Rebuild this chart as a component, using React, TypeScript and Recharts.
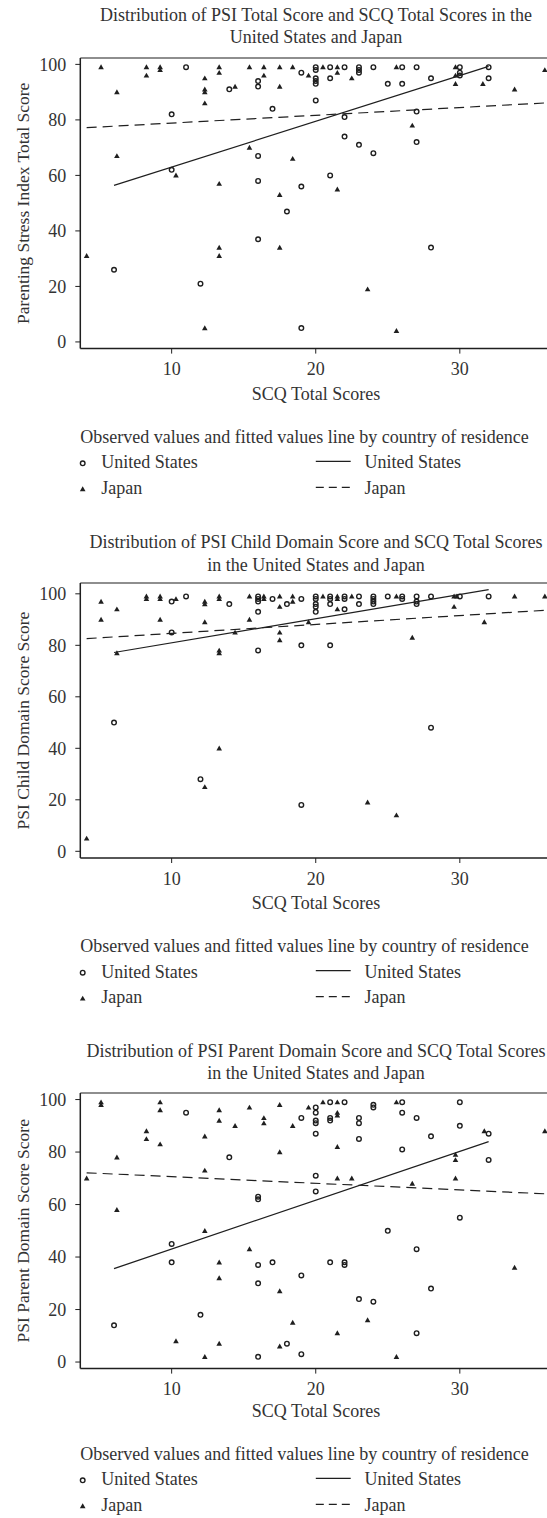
import React from 'react';
import { ComposedChart, Scatter, Line, XAxis, YAxis, ReferenceLine } from 'recharts';

const FONT = '"Liberation Serif", "Times New Roman", serif';
const INK = '#1f1f1f';
const TEXT = '#333';
const W = 547;

const scqTicks = [10, 20, 30];
const psiTicks = [0, 20, 40, 60, 80, 100];
const scqDomain = [3.66, 36.05];

// PSI total score
const totalUsX = [6, 10, 11, 12, 14, 16, 17, 18, 19, 20, 21, 22, 23, 24, 25, 26, 27, 28, 30, 32];
const totalUsY = [[26], [82, 62], [99], [21], [91], [94, 92, 67, 58, 37], [84], [47], [97, 56, 5], [99, 98, 95, 94, 93, 87], [99, 95, 60], [99, 81, 74], [99, 98, 97, 71], [99, 68], [93], [99, 93], [99, 83, 72], [95, 34], [99, 97, 96], [99, 95]];
const totalJpX = [4.1, 5.1, 6.2, 8.25, 9.2, 10.3, 12.3, 13.3, 14.4, 15.4, 16.4, 17.5, 18.4, 19.5, 20.5, 21.5, 22.5, 23.6, 25.6, 26.7, 29.7, 31.6, 33.8, 35.9];
const totalJpY = [[31], [99], [90, 67], [99, 96], [99, 98], [60], [95, 91, 90, 86, 5], [99, 97, 57, 34, 31], [92], [99, 70], [99, 96], [99, 92, 53, 34], [99, 66], [96], [99], [99, 97, 55], [95], [19], [99, 4], [78], [99, 96, 93], [93], [91], [98]];
const totalUsFitX = [6, 32];
const totalUsFitY = [56.4, 99.3];
const totalJpFitX = [4.1, 35.9];
const totalJpFitY = [77.2, 86.1];

// PSI child domain
const childUsX = [6, 10, 11, 12, 14, 16, 17, 18, 19, 20, 21, 22, 23, 24, 25, 26, 27, 28, 30, 32];
const childUsY = [[50], [97, 85], [99], [28], [96], [99, 98, 97, 93, 78], [98], [96], [98, 80, 18], [99, 98, 96, 95, 93], [99, 98, 96, 80], [99, 98, 94], [99, 96], [99, 98, 97, 96], [99], [99, 98], [99, 97, 96], [99, 48], [99], [99]];
const childJpX = [4.1, 5.1, 6.2, 8.25, 9.2, 10.3, 12.3, 13.3, 14.4, 15.4, 16.4, 17.5, 18.4, 19.5, 20.5, 21.5, 22.5, 23.6, 25.6, 26.7, 29.6, 29.8, 31.7, 33.8, 35.9];
const childJpY = [[5], [97, 90], [94, 77], [99, 98], [99, 98, 90], [98], [97, 96, 89, 25], [99, 98, 78, 77, 40], [85], [99, 90], [99, 98], [99, 95, 85, 82], [99, 97], [89], [99], [99, 98, 94], [99], [19], [99, 14], [83], [99, 95], [99], [89], [99], [99]];
const childUsFitX = [6, 32];
const childUsFitY = [77.2, 101.6];
const childJpFitX = [4.1, 35.9];
const childJpFitY = [82.6, 93.6];

// PSI parent domain
const parentUsX = [6, 10, 11, 12, 14, 16, 17, 18, 19, 20, 21, 22, 23, 24, 25, 26, 27, 28, 30, 32];
const parentUsY = [[14], [45, 38], [95], [18], [78], [63, 62, 37, 30, 2], [38], [7], [93, 33, 3], [97, 95, 92, 91, 87, 71, 65], [99, 93, 92, 38], [99, 38, 37], [93, 91, 85, 24], [98, 97, 23], [50], [99, 95, 81], [93, 43, 11], [86, 28], [99, 90, 55], [87, 77]];
const parentJpX = [4.1, 5.1, 6.2, 8.25, 9.2, 10.3, 12.3, 13.3, 14.4, 15.4, 16.4, 17.5, 18.4, 19.5, 20.5, 21.5, 22.5, 23.6, 25.6, 26.7, 29.7, 31.7, 33.8, 35.9];
const parentJpY = [[70], [99, 98], [78, 58], [88, 85], [99, 96, 83], [8], [86, 73, 50, 2], [96, 92, 38, 32, 7], [90], [97, 43], [93, 91], [98, 80, 27, 6], [90, 15], [97], [99], [99, 95, 94, 82, 70, 11], [70], [16], [99, 2], [68], [79, 77, 70], [88], [36], [88]];
const parentUsFitX = [6, 32];
const parentUsFitY = [35.6, 84];
const parentJpFitX = [4.1, 35.9];
const parentJpFitY = [72.1, 64.1];

const legendTitle = 'Observed values and fitted values line by country of residence';
const xTitle = 'SCQ Total Scores';

const toPoints = (xs: number[], ys: number[][]) =>
  xs.flatMap((x, i) => ys[i].map((y) => ({ x, y })));
const toLine = (xs: number[], ys: number[]) => xs.map((x, i) => ({ x, y: ys[i] }));

const Circle = (p: any) => (
  <circle cx={p.cx} cy={p.cy} r={2.3} fill="none" stroke={INK} strokeWidth={1.4} />
);
const Tri = (p: any) => (
  <polygon
    points={`${p.cx},${p.cy - 2.8} ${p.cx + 2.8},${p.cy + 2.1} ${p.cx - 2.8},${p.cy + 2.1}`}
    fill={INK}
  />
);

const panels = [
  {
    title: ['Distribution of PSI Total Score and SCQ Total Scores in the', 'United States and Japan'],
    titleY: [20.7, 42.7],
    yLabel: 'Parenting Stress Index Total Score',
    top: 57.7, bottom: 348.3, yDomain: [-2.4, 102.3], below: 0,
    us: toPoints(totalUsX, totalUsY), jp: toPoints(totalJpX, totalJpY),
    usFit: toLine(totalUsFitX, totalUsFitY), jpFit: toLine(totalJpFitX, totalJpFitY),
  },
  {
    title: ['Distribution of PSI Child Domain Score and SCQ Total Scores', 'in the United States and Japan'],
    titleY: [548.3, 571],
    yLabel: 'PSI Child Domain Score Score',
    top: 582.7, bottom: 857.7, yDomain: [-2.6, 104.2], below: 0,
    us: toPoints(childUsX, childUsY), jp: toPoints(childJpX, childJpY),
    usFit: toLine(childUsFitX, childUsFitY), jpFit: toLine(childJpFitX, childJpFitY),
  },
  {
    title: ['Distribution of PSI Parent Domain Score and SCQ Total Scores', 'in the United States and Japan'],
    titleY: [1057.3, 1079.3],
    yLabel: 'PSI Parent Domain Score Score',
    top: 1092.7, bottom: 1368.3, yDomain: [-2.5, 102.5], below: -3,
    us: toPoints(parentUsX, parentUsY), jp: toPoints(parentJpX, parentJpY),
    usFit: toLine(parentUsFitX, parentUsFitY), jpFit: toLine(parentJpFitX, parentJpFitY),
  },
];

const PAD = 5;
const XH = 40;
const FS = 18;
const CX = 316;
const tickStyle = { fill: TEXT, fontSize: 18, fontFamily: FONT };

function Panel({ p }: { p: (typeof panels)[number] }) {
  const plotH = p.bottom - p.top;
  const b = p.bottom + p.below;
  return (
    <>
      <div style={{ position: 'absolute', left: 0, top: p.top - PAD }}>
        <ComposedChart width={W} height={plotH + PAD + XH} margin={{ top: PAD, right: 0, bottom: 0, left: 0 }}>
          <XAxis
            type="number" dataKey="x" domain={scqDomain} ticks={scqTicks} allowDataOverflow
            height={XH} tickSize={5} tickMargin={9} stroke={INK}
            axisLine={{ stroke: INK, strokeWidth: 1.5 }} tickLine={{ stroke: INK }} tick={tickStyle}
          />
          <YAxis
            type="number" dataKey="y" domain={p.yDomain} ticks={psiTicks} allowDataOverflow
            width={80.3} tickSize={5} tickMargin={9} stroke={INK}
            axisLine={{ stroke: INK, strokeWidth: 1.5 }} tickLine={{ stroke: INK }} tick={tickStyle}
            label={{
              value: p.yLabel, angle: -90, position: 'insideLeft', offset: 23,
              textAnchor: 'middle', fill: TEXT, fontSize: 17.5, fontFamily: FONT,
            }}
          />
          <ReferenceLine y={p.yDomain[1]} stroke={INK} strokeWidth={1.2} />
          <Scatter data={p.us} shape={Circle} isAnimationActive={false} />
          <Scatter data={p.jp} shape={Tri} isAnimationActive={false} />
          <Line data={p.usFit} dataKey="y" stroke={INK} strokeWidth={1.2} dot={false} isAnimationActive={false} />
          <Line data={p.jpFit} dataKey="y" stroke={INK} strokeWidth={1.2} strokeDasharray="10 6" dot={false} isAnimationActive={false} />
        </ComposedChart>
      </div>
      <svg width={W} height={1518} style={{ position: 'absolute', left: 0, top: 0, pointerEvents: 'none' }}>
        <g fontFamily={FONT} fontSize={FS} fill={TEXT}>
          <text x={CX} y={p.titleY[0]} textAnchor="middle">{p.title[0]}</text>
          <text x={CX} y={p.titleY[1]} textAnchor="middle">{p.title[1]}</text>
          <text x={CX} y={b + 51.7} textAnchor="middle">{xTitle}</text>
          <text x={80.3} y={b + 94.4}>{legendTitle}</text>
          <circle cx={82.7} cy={b + 115} r={2.3} fill="none" stroke={INK} strokeWidth={1.4} />
          <text x={101.2} y={b + 120}>United States</text>
          <line x1={315.8} x2={350.7} y1={b + 113} y2={b + 113} stroke={INK} strokeWidth={1.2} />
          <text x={364.6} y={b + 120}>United States</text>
          <polygon
            points={`82.7,${b + 138} 85.5,${b + 142.9} 79.9,${b + 142.9}`}
            fill={INK}
          />
          <text x={101.2} y={b + 145.7}>Japan</text>
          <line x1={315.8} x2={350.7} y1={b + 139} y2={b + 139} stroke={INK} strokeWidth={1.2} strokeDasharray="8 5" />
          <text x={364.6} y={b + 145.7}>Japan</text>
        </g>
      </svg>
    </>
  );
}

export default function App() {
  return (
    <div style={{ position: 'absolute', left: 0, top: 0, width: W, height: 1518, overflow: 'hidden', background: '#fff' }}>
      {panels.map((p, i) => (
        <Panel key={i} p={p} />
      ))}
    </div>
  );
}
